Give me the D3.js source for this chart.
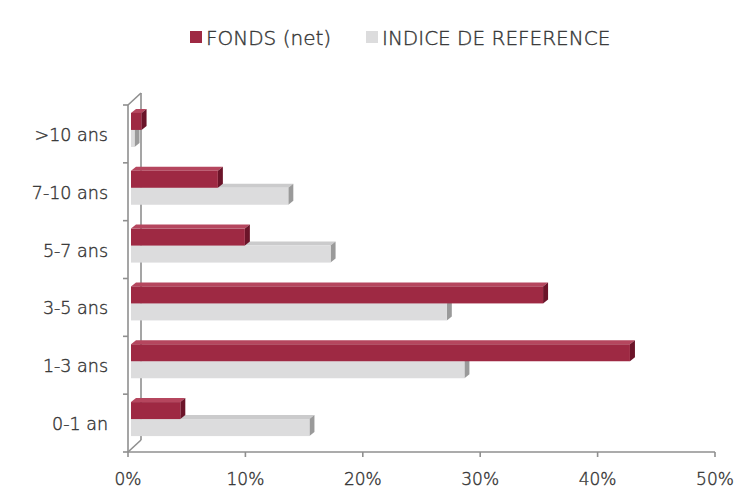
<!DOCTYPE html>
<html>
<head>
<meta charset="utf-8">
<script src="https://cdn.jsdelivr.net/npm/d3@7"></script>
<style>
  body { margin: 0; background: #fff; }
  text { font-family: "DejaVu Sans", sans-serif; font-weight: 200; fill: #363636; stroke: #363636; stroke-width: 0.4; }
</style>
</head>
<body>
<svg id="chart" width="741" height="488"></svg>
<script>
// maturity buckets, top to bottom
const categories = [">10 ans", "7-10 ans", "5-7 ans", "3-5 ans", "1-3 ans", "0-1 an"];
const fonds = [0.009, 0.074, 0.097, 0.351, 0.425, 0.042];
const indice = [0.003, 0.134, 0.170, 0.269, 0.284, 0.152];
const xTicks = [0, 0.1, 0.2, 0.3, 0.4, 0.5];
const seriesNames = ["FONDS (net)", "INDICE DE REFERENCE"];

const colors = {
    fonds: { front: "#9e2943", top: "#b5465e", side: "#6b1429" },
    indice: { front: "#dcdcdd", top: "#cbcbcc", side: "#9a9a9a" }
};

const svg = d3.select("#chart");
const plotLeft = 128, plotRight = 715, plotTop = 105, plotBottom = 452;
const wallDx = 13, wallDy = 12;   // back wall offset
const barDx = 3, barDy = 3;       // bars sit a bit behind the front plane
const depthX = 5, depthY = 4;     // 3d thickness of a bar

const x = d3.scaleLinear().domain([0, 0.5]).range([plotLeft, plotRight]);
const y = d3.scaleBand().domain(categories).range([plotTop, plotBottom]);
const inner = d3.scaleBand().domain(["fonds", "indice"]).range([0, 34]);

const axisColor = "#8f8f8f";

// back wall + floor edges
const walls = svg.append("g").attr("stroke", axisColor).attr("stroke-width", 1.6).attr("fill", "none");
walls.append("line").attr("x1", plotLeft + wallDx).attr("y1", plotTop - wallDy).attr("x2", plotLeft + wallDx).attr("y2", plotBottom - wallDy);
walls.append("line").attr("x1", plotLeft).attr("y1", plotTop).attr("x2", plotLeft + wallDx).attr("y2", plotTop - wallDy);
walls.append("line").attr("x1", plotLeft).attr("y1", plotBottom).attr("x2", plotLeft + wallDx).attr("y2", plotBottom - wallDy);

// bars
const rows = categories.map((c, i) => ({ cat: c, fonds: fonds[i], indice: indice[i] }));

function drawBar(g, v, yTop, col) {
    const x0 = x(0) + barDx, x1 = x(v) + barDx;
    const h = inner.bandwidth();
    // top face
    g.append("path")
        .attr("d", `M${x0},${yTop} L${x0 + depthX},${yTop - depthY} L${x1 + depthX},${yTop - depthY} L${x1},${yTop} Z`)
        .attr("fill", col.top);
    // right face
    g.append("path")
        .attr("d", `M${x1},${yTop} L${x1 + depthX},${yTop - depthY} L${x1 + depthX},${yTop + h - depthY} L${x1},${yTop + h} Z`)
        .attr("fill", col.side);
    // front face
    g.append("rect")
        .attr("x", x0).attr("y", yTop)
        .attr("width", Math.max(0, x1 - x0)).attr("height", h)
        .attr("fill", col.front);
}

const bars = svg.append("g");
rows.forEach(d => {
    const base = y(d.cat) + y.bandwidth() / 2 - 17 - barDy - 1;
    const g = bars.append("g");
    drawBar(g, d.indice, base + inner("indice"), colors.indice);
    drawBar(g, d.fonds, base + inner("fonds"), colors.fonds);
});

// left axis
const yAxis = svg.append("g").attr("stroke", axisColor).attr("stroke-width", 1.6);
yAxis.append("line").attr("x1", plotLeft).attr("y1", plotTop).attr("x2", plotLeft).attr("y2", plotBottom);
const yBounds = categories.map(c => y(c)).concat([plotBottom]);
yAxis.selectAll(".tk").data(yBounds).enter().append("line")
    .attr("x1", plotLeft - 5).attr("x2", plotLeft).attr("y1", d => d).attr("y2", d => d);

svg.append("g").selectAll("text").data(categories).enter().append("text")
    .attr("x", 108)
    .attr("y", d => y(d) + y.bandwidth() / 2 + 7)
    .attr("text-anchor", "end")
    .attr("font-size", 17.5)
    .text(d => d);

// bottom axis
const xAxis = svg.append("g").attr("stroke", axisColor).attr("stroke-width", 1.6);
xAxis.append("line").attr("x1", plotLeft).attr("x2", plotRight).attr("y1", plotBottom).attr("y2", plotBottom);
xAxis.selectAll(".tk").data(xTicks).enter().append("line")
    .attr("x1", d => x(d)).attr("x2", d => x(d)).attr("y1", plotBottom).attr("y2", plotBottom + 5);

svg.append("g").selectAll("text").data(xTicks).enter().append("text")
    .attr("x", d => x(d))
    .attr("y", 485)
    .attr("text-anchor", "middle")
    .attr("font-size", 17)
    .text(d3.format(".0%"));

// legend
const legendX = [190, 366];
const legendCols = [colors.fonds.front, colors.indice.front];
const legend = svg.append("g");
seriesNames.forEach((name, i) => {
    legend.append("rect").attr("x", legendX[i]).attr("y", 31).attr("width", 12).attr("height", 12).attr("fill", legendCols[i]);
    legend.append("text").attr("x", legendX[i] + 16).attr("y", 45).attr("font-size", 20).text(name);
});
</script>
</body>
</html>
